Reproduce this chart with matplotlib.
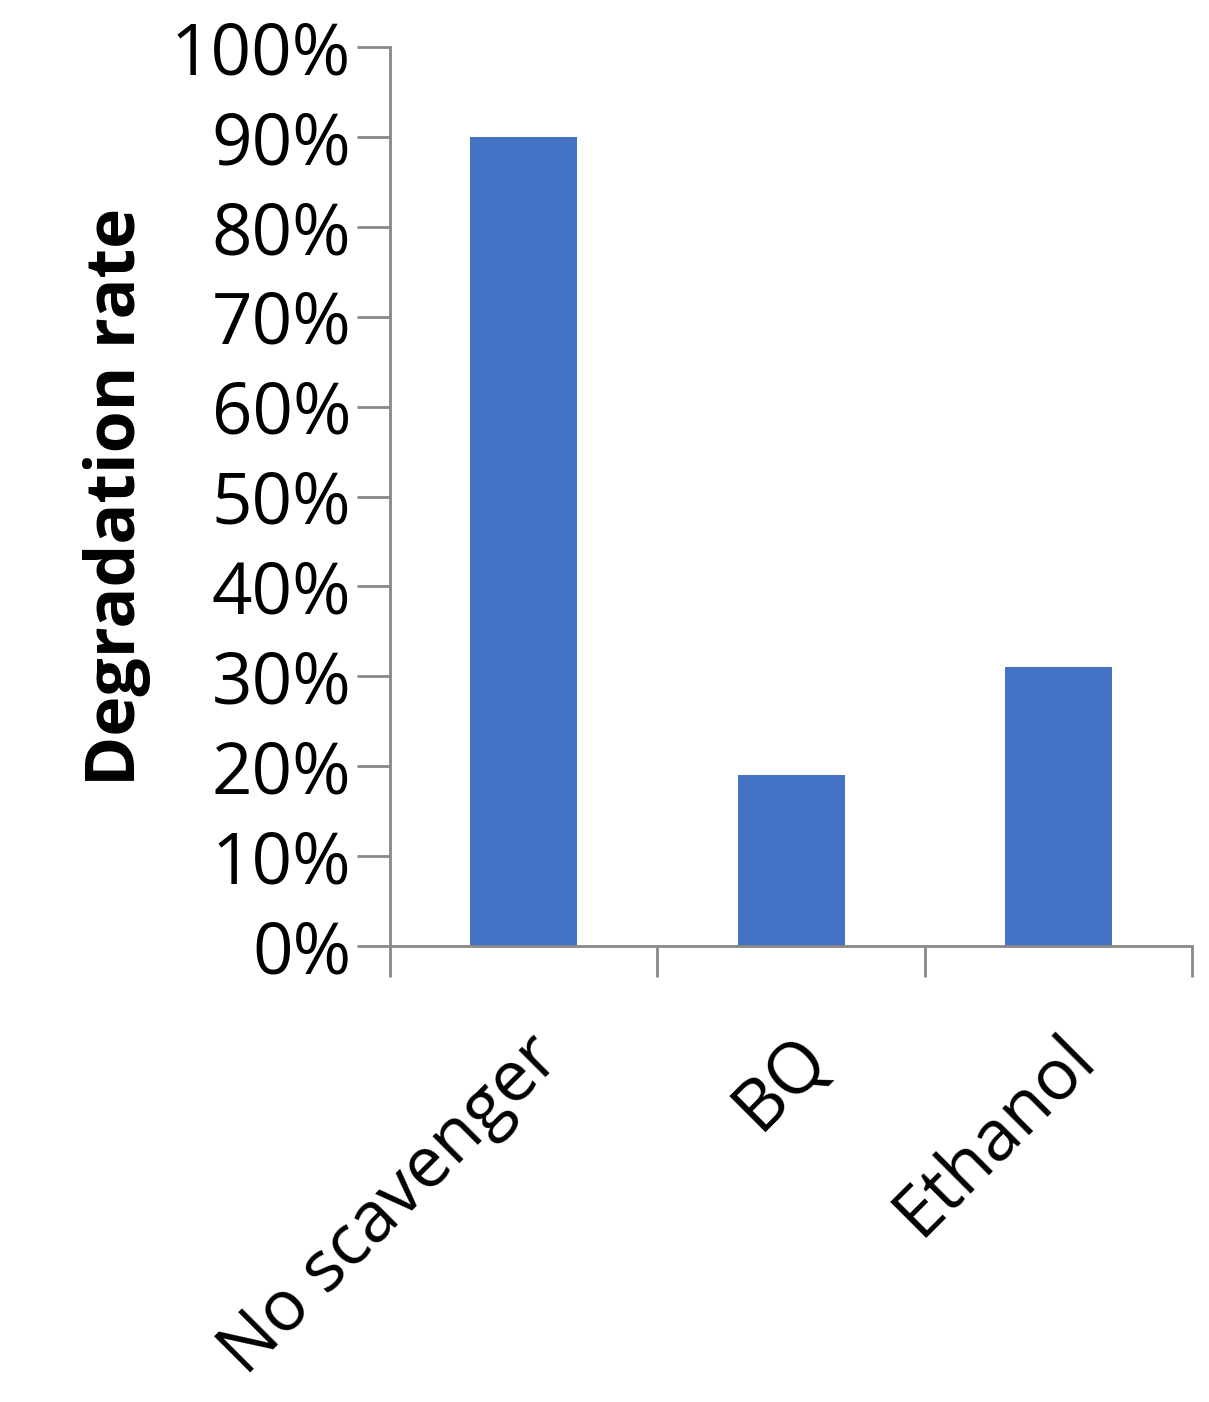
import numpy as np
import matplotlib.pyplot as plt
from matplotlib.ticker import PercentFormatter

categories = ["No scavenger", "BQ", "Ethanol"]
rates = [0.90, 0.19, 0.31]

plt.rcParams['font.family'] = ['Open Sans', 'DejaVu Sans']

fig = plt.figure(figsize=(12.09, 14.02), dpi=100)
ax = fig.add_axes([0.3226, 0.3252, 0.6634, 0.6413])

x = np.arange(len(categories))
ax.bar(x, rates, width=0.4, color="#4472C4")
ax.set_xlim(-0.5, len(categories) - 0.5)
ax.set_ylim(0, 1.0)
ax.set_yticks(np.arange(0, 1.01, 0.1))
ax.yaxis.set_major_formatter(PercentFormatter(1.0, decimals=0))

ax.set_xticks(np.arange(-0.5, len(categories), 1.0))
ax.set_xticklabels([])
ax.set_xticks(x, minor=True)
ax.set_xticklabels(categories, minor=True, rotation=45, ha="right",
                   rotation_mode="anchor", fontsize=51)
ax.tick_params(axis="x", which="minor", length=0, pad=55)
ax.tick_params(axis="x", which="major", length=22, width=2, color="#888888")
ax.tick_params(axis="y", length=24, width=2, color="#888888", labelsize=51, pad=4)

for s in ["top", "right"]:
    ax.spines[s].set_visible(False)
for s in ["left", "bottom"]:
    ax.spines[s].set_color("#888888")
    ax.spines[s].set_linewidth(2)

ax.set_ylabel("Degradation rate", fontsize=49, fontweight="bold", labelpad=14)

fig.savefig("out.png", dpi=100)
